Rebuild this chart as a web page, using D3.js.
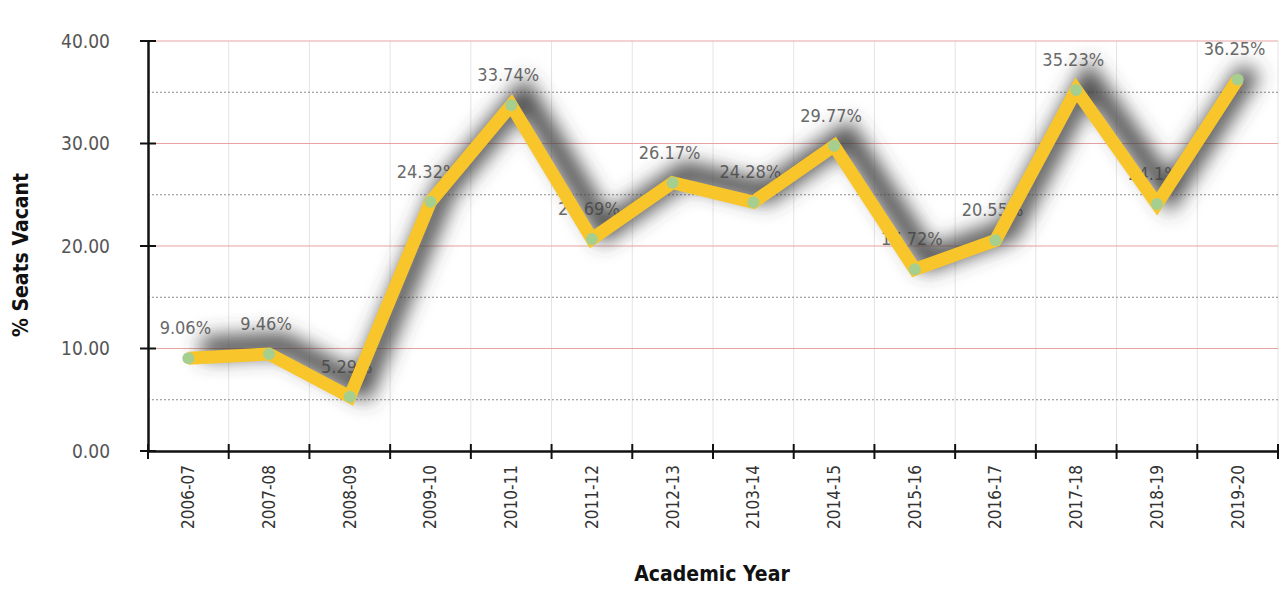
<!DOCTYPE html>
<html>
<head>
<meta charset="utf-8">
<script src="https://cdn.jsdelivr.net/npm/d3@7"></script>
<style>
  html, body { margin: 0; padding: 0; background: #fff; }
  svg { display: block; }
  .cond { font-family: "Liberation Sans Narrow", "DejaVu Sans Condensed", "Roboto Condensed", sans-serif; }
</style>
</head>
<body>
<svg id="chart" width="1282" height="591"></svg>
<script>
// Share of seats left vacant, by academic year
const years = ["2006-07","2007-08","2008-09","2009-10","2010-11","2011-12","2012-13",
               "2103-14","2014-15","2015-16","2016-17","2017-18","2018-19","2019-20"];
const vacantPct = [9.06, 9.46, 5.29, 24.32, 33.74, 20.69, 26.17, 24.28, 29.77, 17.72, 20.55, 35.23, 24.1, 36.25];
const valueLabels = ["9.06%","9.46%","5.29%","24.32%","33.74%","20.69%","26.17%","24.28%","29.77%","17.72%","20.55%","35.23%","24.1%","36.25%"];
const majorTicks = [0, 10, 20, 30, 40];
const minorTicks = [5, 15, 25, 35];

const svg = d3.select("#chart");
const plotLeft = 148, plotRight = 1278, plotTop = 41, plotBottom = 451;

const x = d3.scaleBand().domain(years).range([plotLeft, plotRight]).padding(0);
const y = d3.scaleLinear().domain([0, 40]).range([plotBottom, plotTop]);
const cx = d => x(d) + x.bandwidth() / 2;

// soft drop shadow cast up and to the right of the line
const defs = svg.append("defs");
const f = defs.append("filter").attr("id", "shadow").attr("filterUnits", "userSpaceOnUse")
  .attr("x", 100).attr("y", 0).attr("width", 1200).attr("height", 500);
f.append("feGaussianBlur").attr("in", "SourceAlpha").attr("stdDeviation", 10).attr("result", "b");
f.append("feOffset").attr("in", "b").attr("dx", 13).attr("dy", -10).attr("result", "o");
f.append("feFlood").attr("flood-color", "#404040").attr("flood-opacity", 0.95);
f.append("feComposite").attr("in2", "o").attr("operator", "in");

// vertical grid at category boundaries
const bounds = years.map(d => x(d)).concat([plotRight]);
svg.append("g").selectAll("line").data(bounds.slice(1)).join("line")
  .attr("x1", d => d).attr("x2", d => d).attr("y1", plotTop).attr("y2", plotBottom)
  .attr("stroke", "#e4e4e4").attr("stroke-width", 1);

// minor dotted grid
svg.append("g").selectAll("line").data(minorTicks).join("line")
  .attr("x1", plotLeft).attr("x2", plotRight).attr("y1", d => y(d)).attr("y2", d => y(d))
  .attr("stroke", "#8a8a8a").attr("stroke-width", 1).attr("stroke-dasharray", "2,2");

// major grid
svg.append("g").selectAll("line").data(majorTicks.filter(d => d > 0)).join("line")
  .attr("x1", plotLeft).attr("x2", plotRight).attr("y1", d => y(d)).attr("y2", d => y(d))
  .attr("stroke", "#e9a3a3").attr("stroke-width", 1);

// value labels sit under the line
svg.append("g").attr("class", "cond").selectAll("text").data(years).join("text")
  .attr("x", d => cx(d) - 3)
  .attr("y", (d, i) => y(vacantPct[i]) - 24)
  .attr("text-anchor", "middle")
  .attr("font-size", 18).attr("fill", "#6a6a6a")
  .text((d, i) => valueLabels[i]);

const line = d3.line().x((d, i) => cx(years[i])).y(d => y(d));

svg.append("path").datum(vacantPct).attr("d", line)
  .attr("fill", "none").attr("stroke", "#000").attr("stroke-width", 22)
  .attr("stroke-linejoin", "miter").attr("filter", "url(#shadow)");
svg.append("path").datum(vacantPct).attr("d", line)
  .attr("fill", "none").attr("stroke", "#f8c62a").attr("stroke-width", 13)
  .attr("stroke-linejoin", "miter").attr("stroke-linecap", "butt");

svg.append("g").selectAll("circle").data(vacantPct).join("circle")
  .attr("cx", (d, i) => cx(years[i])).attr("cy", d => y(d)).attr("r", 6)
  .attr("fill", "#a6cf8f");

// y axis
const yAxis = svg.append("g").attr("transform", `translate(${plotLeft},0)`)
  .call(d3.axisLeft(y).tickValues(majorTicks).tickFormat(d3.format(".2f")).tickSize(0).tickPadding(38));
yAxis.select(".domain").attr("stroke", "#111").attr("stroke-width", 2.5);
yAxis.selectAll("text").attr("class", "cond").attr("font-size", 19).attr("fill", "#555");
svg.append("g").selectAll("line").data(majorTicks).join("line")
  .attr("x1", plotLeft - 8).attr("x2", plotLeft + 8).attr("y1", d => y(d)).attr("y2", d => y(d))
  .attr("stroke", "#111").attr("stroke-width", 2);

// x axis with rotated year labels
const xAxis = svg.append("g").attr("transform", `translate(0,${plotBottom})`)
  .call(d3.axisBottom(x).tickSize(0));
xAxis.select(".domain").attr("stroke", "#111").attr("stroke-width", 2.5);
xAxis.selectAll(".tick text")
  .attr("class", "cond").attr("font-size", 17).attr("fill", "#333")
  .attr("text-anchor", "end").attr("transform", "rotate(-90)")
  .attr("x", -14).attr("y", 0).attr("dy", "0.35em");
svg.append("g").selectAll("line").data(bounds).join("line")
  .attr("x1", d => d).attr("x2", d => d).attr("y1", plotBottom - 7).attr("y2", plotBottom + 8)
  .attr("stroke", "#111").attr("stroke-width", 2);

// axis titles
svg.append("text").attr("class", "cond")
  .attr("x", 712).attr("y", 581).attr("text-anchor", "middle")
  .attr("font-size", 21).attr("font-weight", "bold").attr("fill", "#111")
  .text("Academic Year");
svg.append("text").attr("class", "cond")
  .attr("transform", "translate(28,255) rotate(-90)").attr("text-anchor", "middle")
  .attr("font-size", 21).attr("font-weight", "bold").attr("fill", "#111")
  .text("% Seats Vacant");
</script>
</body>
</html>
